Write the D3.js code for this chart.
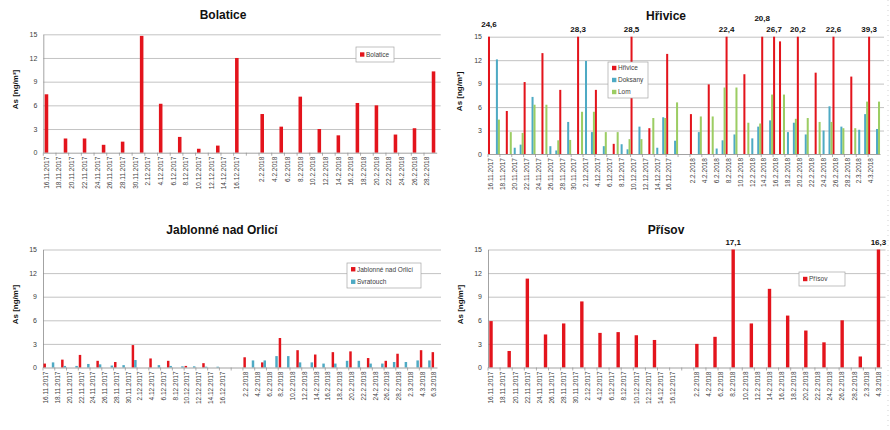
<!DOCTYPE html>
<html><head><meta charset="utf-8">
<script src="https://cdn.jsdelivr.net/npm/d3@7"></script>
<style>
body{margin:0;background:#fff}
svg{display:block}
text{font-family:"Liberation Sans",Arial,sans-serif}
</style>
</head><body>
<svg id="chart" width="890" height="430"></svg>
<script>
// ---------- DATA ----------
const categories = [
 "16.11.2017","17.11.2017","18.11.2017","19.11.2017","20.11.2017","21.11.2017","22.11.2017","23.11.2017",
 "24.11.2017","25.11.2017","26.11.2017","27.11.2017","28.11.2017","29.11.2017","30.11.2017",
 "1.12.2017","2.12.2017","3.12.2017","4.12.2017","5.12.2017","6.12.2017","7.12.2017","8.12.2017","9.12.2017",
 "10.12.2017","11.12.2017","12.12.2017","13.12.2017","14.12.2017","15.12.2017","16.12.2017","17.12.2017",
 "",
 "1.2.2018","2.2.2018","3.2.2018","4.2.2018","5.2.2018","6.2.2018","7.2.2018","8.2.2018","9.2.2018","10.2.2018",
 "11.2.2018","12.2.2018","13.2.2018","14.2.2018","15.2.2018","16.2.2018","17.2.2018","18.2.2018","19.2.2018",
 "20.2.2018","21.2.2018","22.2.2018","23.2.2018","24.2.2018","25.2.2018","26.2.2018","27.2.2018","28.2.2018",
 "1.3.2018","2.3.2018","3.3.2018","4.3.2018","5.3.2018","6.3.2018"
];
const yTicks = [0, 3, 6, 9, 12, 15];

const bolaticeDates = ["16.11.2017","19.11.2017","22.11.2017","25.11.2017","28.11.2017","1.12.2017","4.12.2017","7.12.2017","10.12.2017","13.12.2017","16.12.2017",
 "2.2.2018","5.2.2018","8.2.2018","11.2.2018","14.2.2018","17.2.2018","20.2.2018","23.2.2018","26.2.2018","1.3.2018"];
const bolaticeValues = [7.4,1.8,1.8,1.0,1.4,14.8,6.2,2.0,0.5,0.9,12.0, 4.9,3.3,7.1,3.0,2.2,6.3,6.0,2.3,3.1,10.3];

const hrivDates = ["16.11.2017","19.11.2017","22.11.2017","25.11.2017","28.11.2017","1.12.2017","4.12.2017","7.12.2017","10.12.2017","13.12.2017","16.12.2017",
 "2.2.2018","5.2.2018","8.2.2018","11.2.2018","14.2.2018","16.2.2018","17.2.2018","20.2.2018","23.2.2018","26.2.2018","1.3.2018","4.3.2018"];
const hrivValues = [24.6,5.5,9.2,12.9,8.2,28.3,8.2,1.3,28.5,3.3,12.8, 5.1,8.9,22.4,10.2,20.8,26.7,14.4,20.2,10.4,22.6,9.9,39.3];

const doksanyDates = ["17.11.2017","20.11.2017","21.11.2017","23.11.2017","26.11.2017","27.11.2017","29.11.2017","2.12.2017","3.12.2017","5.12.2017",
 "8.12.2017","9.12.2017","11.12.2017","14.12.2017","15.12.2017","17.12.2017",
 "3.2.2018","6.2.2018","7.2.2018","9.2.2018","12.2.2018","13.2.2018","15.2.2018","18.2.2018","19.2.2018","21.2.2018",
 "24.2.2018","25.2.2018","27.2.2018","2.3.2018","3.3.2018","5.3.2018"];
const doksanyValues = [12.1,0.8,1.2,7.3,1.0,0.45,4.1,11.9,2.8,1.0, 1.25,0.6,3.5,0.8,4.7,1.7,
 2.8,0.7,1.75,2.5,2.0,3.5,4.3,2.8,4.0,2.5, 3.0,6.1,3.5,3.1,5.1,3.2];

const lomDates = ["17.11.2017","19.11.2017","21.11.2017","23.11.2017","25.11.2017","27.11.2017","29.11.2017","1.12.2017","3.12.2017","5.12.2017",
 "7.12.2017","9.12.2017","11.12.2017","13.12.2017","15.12.2017","17.12.2017",
 "3.2.2018","5.2.2018","7.2.2018","9.2.2018","11.2.2018","13.2.2018","15.2.2018","17.2.2018","19.2.2018","21.2.2018",
 "23.2.2018","25.2.2018","27.2.2018","1.3.2018","3.3.2018","5.3.2018"];
const lomValues = [4.4,2.8,2.7,6.3,6.3,1.75,1.8,5.4,5.4,2.8, 2.8,1.9,1.9,4.6,4.6,6.6,
 4.8,4.8,8.5,8.5,4.0,3.9,7.6,7.6,4.5,4.6, 4.1,4.1,3.3,3.3,6.7,6.7];

const jablDates = ["16.11.2017","19.11.2017","22.11.2017","25.11.2017","28.11.2017","1.12.2017","4.12.2017","7.12.2017","10.12.2017","13.12.2017",
 "2.2.2018","5.2.2018","8.2.2018","11.2.2018","14.2.2018","17.2.2018","20.2.2018","23.2.2018","26.2.2018","28.2.2018","4.3.2018","6.3.2018"];
const jablValues = [0.5,1.0,1.6,0.85,0.7,2.85,1.15,0.85,0.2,0.55, 1.3,0.65,3.75,2.2,1.65,1.95,2.05,1.2,0.85,1.75,2.2,1.95];

const svraDates = ["17.11.2017","19.11.2017","21.11.2017","23.11.2017","25.11.2017","27.11.2017","29.11.2017","1.12.2017","5.12.2017","7.12.2017",
 "9.12.2017","11.12.2017","13.12.2017","15.12.2017",
 "3.2.2018","5.2.2018","7.2.2018","9.2.2018","11.2.2018","13.2.2018","15.2.2018","17.2.2018","19.2.2018","21.2.2018",
 "23.2.2018","25.2.2018","27.2.2018","1.3.2018","3.3.2018","5.3.2018"];
const svraValues = [0.65,0.2,0.2,0.45,0.4,0.25,0.3,0.95,0.3,0.2, 0.15,0.15,0.1,0.1,
 0.9,0.9,1.45,1.45,0.65,0.65,0.5,0.5,0.85,0.85, 0.5,0.5,0.7,0.7,0.9,0.9];

const prisovDates = ["16.11.2017","19.11.2017","22.11.2017","25.11.2017","28.11.2017","1.12.2017","4.12.2017","7.12.2017","10.12.2017","13.12.2017",
 "2.2.2018","5.2.2018","8.2.2018","11.2.2018","14.2.2018","17.2.2018","20.2.2018","23.2.2018","26.2.2018","1.3.2018","4.3.2018"];
const prisovValues = [5.9,2.1,11.3,4.2,5.6,8.4,4.4,4.5,4.1,3.5, 3.0,3.9,17.1,5.6,10.0,6.6,4.7,3.2,6.0,1.4,16.3];

// ---------- STYLE / LAYOUT ----------
const RED = "#e3141c", TEAL = "#4eaac4", GREEN = "#9ccd63";

const panels = [
  { title: "Bolatice", last: "1.3.2018", box: {x0: 43.3, x1: 436.7, yT: 34.3, yB: 152.7},
    titleX: 223, titleY: 15, yLabX: 15,
    series: [{name: "Bolatice", dates: bolaticeDates, values: bolaticeValues, color: RED}],
    legend: {x: 356, y: 47, w: 38, h: 15}, lift: {} },
  { title: "Hřivice", last: "5.3.2018", box: {x0: 488, x1: 880, yT: 36.7, yB: 154},
    titleX: 666, titleY: 16, yLabX: 459,
    series: [{name: "Hřivice", dates: hrivDates, values: hrivValues, color: RED},
             {name: "Doksany", dates: doksanyDates, values: doksanyValues, color: TEAL},
             {name: "Lom", dates: lomDates, values: lomValues, color: GREEN}],
    legend: {x: 608, y: 62, w: 40, h: 36}, lift: {"16.11.2017": 5, "14.2.2018": 11} },
  { title: "Jablonné nad Orlicí", last: "6.3.2018", box: {x0: 43, x1: 437, yT: 249.5, yB: 367.5},
    titleX: 222, titleY: 230, yLabX: 15,
    series: [{name: "Jablonné nad Orlicí", dates: jablDates, values: jablValues, color: RED},
             {name: "Svratouch", dates: svraDates, values: svraValues, color: TEAL}],
    legend: {x: 347, y: 263, w: 74, h: 25}, lift: {} },
  { title: "Přísov", last: "4.3.2018", box: {x0: 488, x1: 881.5, yT: 249.5, yB: 367.5},
    titleX: 666, titleY: 230, yLabX: 460,
    series: [{name: "Přísov", dates: prisovDates, values: prisovValues, color: RED}],
    legend: {x: 799, y: 272, w: 46, h: 14}, lift: {} }
];

const layouts = {
  1: {w: 0.56, off: [0]},
  2: {w: 0.42, off: [-0.21, 0.21]},
  3: {w: 0.34, off: [-0.333, 0, 0.333]}
};

const svg = d3.select("#chart");
const fmt = v => d3.format(".1f")(v).replace(".", ",");

panels.forEach(p => {
  const cats = categories.slice(0, categories.indexOf(p.last) + 1);
  const b = p.box;
  const x = d3.scaleBand().domain(cats).range([b.x0, b.x1]).paddingInner(0).paddingOuter(0);
  const y = d3.scaleLinear().domain([0, 15]).range([b.yB, b.yT]).clamp(true);
  const g = svg.append("g");
  const bw = x.bandwidth();

  // gridlines
  g.append("g")
    .attr("transform", `translate(${b.x0},0)`)
    .call(d3.axisLeft(y).tickValues(yTicks.slice(1)).tickSize(-(b.x1 - b.x0 + 4)).tickFormat(""))
    .call(s => s.select(".domain").remove())
    .call(s => s.selectAll("line").attr("stroke", "#b4b4b4").attr("stroke-width", 0.8));

  // y axis
  g.append("g")
    .attr("transform", `translate(${b.x0},0)`)
    .call(d3.axisLeft(y).tickValues(yTicks).tickSize(0).tickPadding(6))
    .call(s => s.select(".domain").attr("stroke", "#8c8c8c").attr("stroke-width", 0.8))
    .call(s => s.selectAll("text").attr("font-size", 7).attr("fill", "#404040").attr("font-family", '"Liberation Sans",Arial,sans-serif'));

  // bars
  const lay = layouts[p.series.length];
  p.series.forEach((s, si) => {
    const rows = s.dates.map((d, i) => ({d, v: s.values[i]}));
    g.append("g").selectAll("rect").data(rows).join("rect")
      .attr("x", r => x(r.d) + bw / 2 + lay.off[si] * bw - lay.w * bw / 2)
      .attr("width", lay.w * bw)
      .attr("y", r => y(r.v))
      .attr("height", r => y(0) - y(r.v))
      .attr("fill", s.color);
    // value labels for bars that exceed the axis
    g.append("g").selectAll("text").data(rows.filter(r => r.v > 15)).join("text")
      .attr("x", r => x(r.d) + bw / 2 + lay.off[si] * bw)
      .attr("y", r => b.yT - 5 - (p.lift[r.d] || 0))
      .attr("text-anchor", "middle")
      .attr("font-size", 8).attr("font-weight", "bold").attr("fill", "#111")
      .text(r => fmt(r.v));
  });

  // x axis
  const tickVals = cats.filter((d, i) => i % 2 === 0);
  const xa = g.append("g")
    .attr("transform", `translate(0,${b.yB})`)
    .call(d3.axisBottom(x).tickValues(tickVals).tickSize(0).tickPadding(0));
  xa.select(".domain").attr("stroke", "#8c8c8c").attr("stroke-width", 0.8);
  xa.selectAll("text")
    .attr("transform", "rotate(-90)")
    .attr("x", -4).attr("y", 0).attr("dy", "0.35em")
    .attr("text-anchor", "end")
    .attr("font-size", 6.5).attr("fill", "#404040")
    .attr("font-family", '"Liberation Sans",Arial,sans-serif');
  // tick marks between label pairs
  g.append("g").selectAll("line").data(tickVals).join("line")
    .attr("x1", d => x(d)).attr("x2", d => x(d))
    .attr("y1", b.yB).attr("y2", b.yB + 3)
    .attr("stroke", "#8c8c8c").attr("stroke-width", 0.7);

  // title
  g.append("text").attr("x", p.titleX).attr("y", p.titleY).attr("dy", "0.35em")
    .attr("text-anchor", "middle").attr("font-size", 12).attr("font-weight", "bold").attr("fill", "#111")
    .text(p.title);

  // y label
  const ly = (b.yT + b.yB) / 2 - 4;
  g.append("text").attr("transform", `translate(${p.yLabX},${ly}) rotate(-90)`)
    .attr("text-anchor", "middle").attr("dy", "0.35em")
    .attr("font-size", 8).attr("font-weight", "bold").attr("fill", "#111")
    .text("As [ng/m³]");

  // legend
  const L = p.legend;
  const lg = g.append("g");
  lg.append("rect").attr("x", L.x).attr("y", L.y).attr("width", L.w).attr("height", L.h)
    .attr("fill", "#fff").attr("stroke", "#a6a6a6").attr("stroke-width", 0.7);
  const step = L.h / p.series.length;
  p.series.forEach((s, i) => {
    const cy = L.y + step * (i + 0.5);
    lg.append("rect").attr("x", L.x + 4).attr("y", cy - 2.2).attr("width", 4.4).attr("height", 4.4).attr("fill", s.color);
    lg.append("text").attr("x", L.x + 10).attr("y", cy).attr("dy", "0.35em")
      .attr("font-size", 6.5).attr("fill", "#404040").text(s.name);
  });
});

// faint page-edge guide on the right
svg.append("line").attr("x1", 888).attr("x2", 888).attr("y1", 0).attr("y2", 430)
  .attr("stroke", "#c8c8c8").attr("stroke-width", 0.8).attr("stroke-dasharray", "1,4");
</script>
</body></html>
